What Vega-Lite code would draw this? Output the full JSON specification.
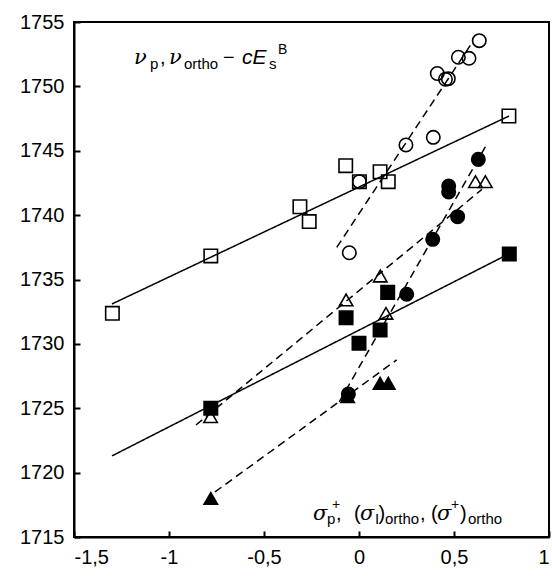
{
  "$schema": "https://vega.github.io/schema/vega-lite/v6.json",
  "width": 475,
  "height": 515,
  "autosize": {"type": "none"},
  "padding": {"left": 74, "top": 22, "right": 3, "bottom": 39},
  "background": "white",
  "config": {
    "view": {"stroke": "black", "strokeWidth": 2},
    "font": "Liberation Sans",
    "axis": {
      "grid": false,
      "title": null,
      "domainColor": "black",
      "domainWidth": 2,
      "tickColor": "black",
      "tickWidth": 2,
      "tickSize": -6,
      "labelFont": "Liberation Sans",
      "labelFontSize": 20,
      "labelColor": "black",
      "labelPadding": 16
    }
  },
  "datasets": {
    "points": [
      {"set": "open square", "x": -1.298, "y": 1732.37},
      {"set": "open square", "x": -0.78, "y": 1736.83},
      {"set": "open square", "x": -0.311, "y": 1740.65},
      {"set": "open square", "x": -0.262, "y": 1739.5},
      {"set": "open square", "x": -0.07, "y": 1743.84},
      {"set": "open square", "x": 0.002, "y": 1742.6},
      {"set": "open square", "x": 0.111, "y": 1743.37},
      {"set": "open square", "x": 0.154, "y": 1742.6},
      {"set": "open square", "x": 0.789, "y": 1747.7},
      {"set": "open circle", "x": -0.051, "y": 1737.08},
      {"set": "open circle", "x": 0.002, "y": 1742.6},
      {"set": "open circle", "x": 0.247, "y": 1745.45},
      {"set": "open circle", "x": 0.391, "y": 1746.04},
      {"set": "open circle", "x": 0.412, "y": 1751.0},
      {"set": "open circle", "x": 0.455, "y": 1750.55},
      {"set": "open circle", "x": 0.47, "y": 1750.6},
      {"set": "open circle", "x": 0.523, "y": 1752.26},
      {"set": "open circle", "x": 0.579, "y": 1752.18},
      {"set": "open circle", "x": 0.633, "y": 1753.55},
      {"set": "open triangle", "x": -0.781, "y": 1724.35},
      {"set": "open triangle", "x": -0.068, "y": 1733.41},
      {"set": "open triangle", "x": 0.112, "y": 1735.27},
      {"set": "open triangle", "x": 0.142, "y": 1732.37},
      {"set": "open triangle", "x": 0.613, "y": 1742.6},
      {"set": "open triangle", "x": 0.665, "y": 1742.6},
      {"set": "filled square", "x": -0.78, "y": 1725.0},
      {"set": "filled square", "x": -0.068, "y": 1732.03},
      {"set": "filled square", "x": 0.0, "y": 1730.04},
      {"set": "filled square", "x": 0.111, "y": 1731.08},
      {"set": "filled square", "x": 0.151, "y": 1734.0},
      {"set": "filled square", "x": 0.791, "y": 1736.98},
      {"set": "filled circle", "x": -0.056, "y": 1726.1},
      {"set": "filled circle", "x": 0.251, "y": 1733.85},
      {"set": "filled circle", "x": 0.388, "y": 1738.12},
      {"set": "filled circle", "x": 0.472, "y": 1741.8},
      {"set": "filled circle", "x": 0.472, "y": 1742.26},
      {"set": "filled circle", "x": 0.519, "y": 1739.88},
      {"set": "filled circle", "x": 0.628, "y": 1744.33},
      {"set": "filled triangle", "x": -0.78, "y": 1718.0},
      {"set": "filled triangle", "x": -0.06, "y": 1725.9},
      {"set": "filled triangle", "x": 0.111, "y": 1726.94},
      {"set": "filled triangle", "x": 0.154, "y": 1726.94}
    ],
    "fits": [
      {"fit": "open square", "x": -1.3, "y": 1733.1},
      {"fit": "open square", "x": 0.79, "y": 1747.7},
      {"fit": "filled square", "x": -1.3, "y": 1721.3},
      {"fit": "filled square", "x": 0.79, "y": 1737.0},
      {"fit": "open circle", "x": -0.117, "y": 1737.5},
      {"fit": "open circle", "x": 0.6, "y": 1753.5},
      {"fit": "filled circle", "x": -0.104, "y": 1725.5},
      {"fit": "filled circle", "x": 0.665, "y": 1745.3},
      {"fit": "open triangle", "x": -0.858, "y": 1723.7},
      {"fit": "open triangle", "x": 0.647, "y": 1742.0},
      {"fit": "filled triangle", "x": -0.758, "y": 1718.5},
      {"fit": "filled triangle", "x": 0.198, "y": 1728.75}
    ],
    "textGreek": [
      {"t": "ν", "x": -1.184, "y": 1751.7},
      {"t": "ν", "x": -1.0, "y": 1751.7},
      {"t": "σ", "x": -0.2421, "y": 1716.32},
      {"t": "σ", "x": 0.0053, "y": 1716.32},
      {"t": "σ", "x": 0.4105, "y": 1716.32}
    ],
    "textItalic": [
      {"t": "cE", "x": -0.6158, "y": 1751.7}
    ],
    "textMain": [
      {"t": ",", "x": -1.0474, "y": 1751.7},
      {"t": "−", "x": -0.7158, "y": 1751.7},
      {"t": ",", "x": -0.1211, "y": 1716.32},
      {"t": "(", "x": -0.0263, "y": 1716.32},
      {"t": ")", "x": 0.1026, "y": 1716.32},
      {"t": ",", "x": 0.3211, "y": 1716.32},
      {"t": "(", "x": 0.3789, "y": 1716.32},
      {"t": ")", "x": 0.5316, "y": 1716.32}
    ],
    "textSub": [
      {"t": "p", "x": -1.1, "y": 1751.35},
      {"t": "ortho", "x": -0.9211, "y": 1751.35},
      {"t": "s", "x": -0.4737, "y": 1751.35},
      {"t": "p", "x": -0.1684, "y": 1716.01},
      {"t": "I", "x": 0.0842, "y": 1716.01},
      {"t": "ortho", "x": 0.1368, "y": 1716.01},
      {"t": "ortho", "x": 0.5737, "y": 1716.01}
    ],
    "textSup": [
      {"t": "B", "x": -0.4263, "y": 1752.55},
      {"t": "+", "x": -0.1421, "y": 1717.15},
      {"t": "+", "x": 0.4842, "y": 1717.15}
    ]
  },
  "encoding": {
    "x": {
      "field": "x", "type": "quantitative",
      "scale": {"domain": [-1.5, 1], "nice": false, "zero": false},
      "axis": {"values": [-1.5, -1, -0.5, 0, 0.5, 1], "labelExpr": "replace(toString(datum.value), '.', ',')"}
    },
    "y": {
      "field": "y", "type": "quantitative",
      "scale": {"domain": [1715, 1755], "nice": false, "zero": false},
      "axis": {"values": [1715, 1720, 1725, 1730, 1735, 1740, 1745, 1750, 1755], "format": "d"}
    }
  },
  "layer": [
    {
      "data": {"name": "fits"},
      "mark": {"type": "line", "color": "black", "strokeWidth": 1.5},
      "encoding": {
        "detail": {"field": "fit"},
        "strokeDash": {
          "field": "fit", "type": "nominal", "legend": null,
          "scale": {
            "domain": ["open square", "filled square", "open circle", "filled circle", "open triangle", "filled triangle"],
            "range": [[1, 0], [1, 0], [8, 5], [8, 5], [8, 5], [8, 5]]
          }
        }
      }
    },
    {
      "data": {"name": "points"},
      "mark": {"type": "point", "filled": true, "stroke": "black", "strokeWidth": 1.6, "opacity": 1, "size": 180},
      "encoding": {
        "shape": {
          "field": "set", "type": "nominal", "legend": null,
          "scale": {
            "domain": ["open square", "filled square", "open circle", "filled circle", "open triangle", "filled triangle"],
            "range": ["square", "square", "circle", "circle", "triangle-up", "triangle-up"]
          }
        },
        "fill": {
          "field": "set", "type": "nominal", "legend": null,
          "scale": {
            "domain": ["open square", "filled square", "open circle", "filled circle", "open triangle", "filled triangle"],
            "range": ["transparent", "black", "transparent", "black", "transparent", "black"]
          }
        }
      }
    },
    {
      "data": {"name": "textGreek"},
      "mark": {"type": "text", "align": "left", "baseline": "alphabetic", "fontSize": 21, "fontStyle": "italic", "font": "DejaVu Serif", "color": "black"},
      "encoding": {"text": {"field": "t"}}
    },
    {
      "data": {"name": "textItalic"},
      "mark": {"type": "text", "align": "left", "baseline": "alphabetic", "fontSize": 21, "fontStyle": "italic", "font": "Liberation Sans", "color": "black"},
      "encoding": {"text": {"field": "t"}}
    },
    {
      "data": {"name": "textMain"},
      "mark": {"type": "text", "align": "left", "baseline": "alphabetic", "fontSize": 20, "font": "Liberation Sans", "color": "black"},
      "encoding": {"text": {"field": "t"}}
    },
    {
      "data": {"name": "textSub"},
      "mark": {"type": "text", "align": "left", "baseline": "alphabetic", "fontSize": 15, "font": "Liberation Sans", "color": "black"},
      "encoding": {"text": {"field": "t"}}
    },
    {
      "data": {"name": "textSup"},
      "mark": {"type": "text", "align": "left", "baseline": "alphabetic", "fontSize": 14, "font": "Liberation Sans", "color": "black"},
      "encoding": {"text": {"field": "t"}}
    }
  ]
}
